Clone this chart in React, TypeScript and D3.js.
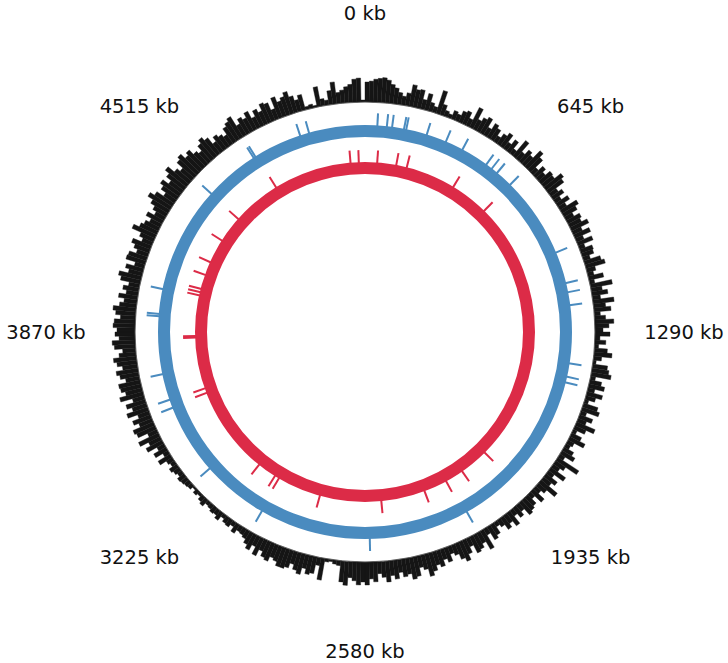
import React, { useEffect, useRef } from 'react';
import * as d3 from 'd3';

// genome size in kb and the position labels around the circle
const genomeLength = 5160;
const tickLabels = [0, 645, 1290, 1935, 2580, 3225, 3870, 4515];

// feature positions (kb) on the outer (blue) track
const blueFeatures = [
  49, 87, 108, 156, 165, 249, 330, 403, 515, 542, 569, 639, 966, 1094, 1131, 1183,
  1415, 1469, 1492, 2157, 2561, 3009, 3278, 3562, 3596, 3701, 3933, 3942, 4042,
  4472, 4693, 4701, 4898, 4935,
];

// feature positions (kb) on the inner (red) track
const redFeatures = [
  59, 152, 204, 449, 638, 1938, 2080, 2171, 2286, 2501, 2801, 3017, 3039, 3133,
  3569, 3592, 3843, 3851, 4049, 4065, 4081, 4152, 4218, 4337, 4468, 4707, 5090, 5130,
];

// histogram of the outermost track, one value per bin (360 bins)
const density = [
  20, 21, 23, 24, 25, 23, 19, 16, 12, 9,
  13, 22, 18, 19, 10, 17, 9, 6, 24, 11,
  6, 4, 9, 7, 12, 14, 8, 22, 11, 15,
  18, 9, 16, 13, 7, 12, 16, 8, 14, 6,
  20, 9, 15, 12, 22, 17, 7, 13, 9, 15,
  14, 22, 19, 9, 13, 7, 14, 8, 19, 15,
  9, 15, 13, 19, 10, 17, 8, 16, 6, 13,
  12, 7, 17, 20, 9, 6, 15, 5, 22, 11,
  16, 8, 21, 12, 17, 6, 11, 19, 14, 8,
  15, 5, 11, 4, 13, 18, 8, 3, 15, 17,
  20, 5, 12, 16, 7, 16, 10, 4, 15, 18,
  6, 14, 9, 20, 12, 4, 11, 17, 7, 5,
  11, 15, 6, 25, 12, 8, 18, 7, 14, 10,
  21, 11, 7, 15, 6, 12, 14, 16, 8, 12,
  7, 16, 10, 14, 8, 5, 12, 15, 7, 21,
  12, 16, 18, 9, 15, 21, 17, 11, 8, 15,
  11, 17, 14, 19, 23, 15, 12, 20, 22, 16,
  18, 13, 19, 15, 21, 16, 12, 20, 17, 23,
  20, 23, 19, 16, 24, 21, 5, 4, 2, 3,
  22, 8, 17, 19, 14, 21, 18, 13, 18, 20,
  20, 16, 14, 19, 17, 12, 19, 11, 17, 13,
  9, 7, 6, 10, 5, 8, 7, 4, 9, 6,
  7, 5, 4, 8, 6, 3, 5, 2, 5, 6,
  7, 8, 5, 7, 9, 5, 7, 14, 6, 14,
  8, 18, 13, 22, 10, 20, 22, 14, 19, 12,
  22, 15, 20, 12, 24, 17, 21, 22, 14, 19,
  22, 15, 20, 23, 17, 13, 21, 23, 16, 20,
  18, 22, 21, 15, 20, 23, 17, 13, 19, 12,
  16, 11, 20, 23, 14, 18, 10, 20, 19, 12,
  16, 20, 11, 15, 25, 19, 16, 12, 18, 11,
  15, 20, 26, 21, 13, 19, 23, 16, 22, 27,
  19, 15, 23, 26, 20, 23, 17, 14, 20, 24,
  20, 12, 17, 14, 11, 18, 21, 24, 13, 18,
  15, 20, 12, 18, 14, 21, 19, 11, 22, 16,
  19, 23, 17, 12, 16, 3, 4, 2, 20, 7,
  5, 14, 22, 11, 13, 16, 18, 23, 24, 2,
];

const App = () => {
  const ref = useRef<SVGSVGElement>(null);

  useEffect(() => {
    const cx = 365;
    const cy = 332;
    const baseR = 230;
    const blue = '#4a8bbf';
    const red = '#dc2b47';

    const svg = d3.select(ref.current);
    svg.selectAll('*').remove();
    const g = svg.append('g').attr('transform', `translate(${cx},${cy})`);

    const angle = d3.scaleLinear().domain([0, genomeLength]).range([0, 2 * Math.PI]);
    const binSize = genomeLength / density.length;
    const barH = d3.scaleLinear().domain([0, 27]).range([0, 27]);
    const arc = d3.arc<any>();

    // histogram track
    g.selectAll('path.bar')
      .data(density)
      .enter()
      .append('path')
      .attr('class', 'bar')
      .attr('d', (d, i) =>
        arc({
          innerRadius: baseR,
          outerRadius: baseR + barH(d),
          startAngle: angle(i * binSize),
          endAngle: angle((i + 1) * binSize),
        })
      )
      .attr('fill', '#151515')
      .attr('stroke', '#151515')
      .attr('stroke-width', 0.4);

    g.append('circle')
      .attr('r', baseR)
      .attr('fill', 'none')
      .attr('stroke', '#555')
      .attr('stroke-width', 0.8);

    // feature tracks: ring + outward ticks
    const track = (features, color, rInner, rOuter, tickLen) => {
      g.append('circle')
        .attr('r', (rInner + rOuter) / 2)
        .attr('fill', 'none')
        .attr('stroke', color)
        .attr('stroke-width', rOuter - rInner);
      g.selectAll(null)
        .data(features)
        .enter()
        .append('line')
        .attr('x1', (d) => (rOuter - 1) * Math.sin(angle(d)))
        .attr('y1', (d) => -(rOuter - 1) * Math.cos(angle(d)))
        .attr('x2', (d) => (rOuter + tickLen) * Math.sin(angle(d)))
        .attr('y2', (d) => -(rOuter + tickLen) * Math.cos(angle(d)))
        .attr('stroke', color)
        .attr('stroke-width', 2);
    };
    track(blueFeatures, blue, 195, 207, 12);
    track(redFeatures, red, 158, 170, 12);

    // position labels
    const labelR = 319;
    g.selectAll('text.lbl')
      .data(tickLabels)
      .enter()
      .append('text')
      .attr('class', 'lbl')
      .attr('x', (d) => labelR * Math.sin(angle(d)))
      .attr('y', (d) => -labelR * Math.cos(angle(d)))
      .attr('text-anchor', 'middle')
      .attr('dominant-baseline', 'central')
      .attr('font-family', 'DejaVu Sans')
      .attr('font-size', 19.5)
      .attr('fill', '#111')
      .text((d) => `${d} kb`);
  }, []);

  return (
    <svg
      ref={ref}
      width={728}
      height={663}
      style={{ position: 'absolute', left: 0, top: 0, background: '#fff' }}
    />
  );
};

export default App;
